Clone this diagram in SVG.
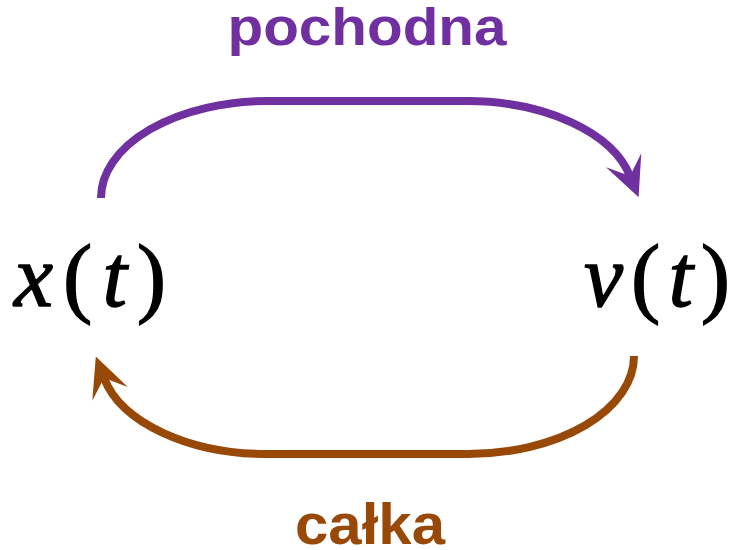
<svg xmlns="http://www.w3.org/2000/svg" width="736" height="550" viewBox="0 0 736 550">
<style>
.lbl{font-family:"Liberation Sans",Arial,sans-serif;font-weight:bold;text-anchor:middle}
.math{font-family:"Liberation Serif","Times New Roman",serif;font-size:88px;fill:#000;stroke:#000;stroke-width:1.3}
.it{font-style:italic}
.conn{fill:none;stroke-width:8}
</style>
<defs>
<marker id="ahP" markerUnits="userSpaceOnUse" viewBox="-40 -21 42 42" refX="-23" refY="0" markerWidth="42" markerHeight="42" orient="auto">
<path d="M0,0 L-40,-19 L-23,0 L-40,19 Z" fill="#7030A0"/>
</marker>
<marker id="ahB" markerUnits="userSpaceOnUse" viewBox="-40 -21 42 42" refX="-23" refY="0" markerWidth="42" markerHeight="42" orient="auto">
<path d="M0,0 L-40,-19 L-23,0 L-40,19 Z" fill="#984807"/>
</marker>
</defs>
<g id="connectors">
<path class="conn" stroke="#7030A0" d="M101,198 A167,97 0 0 1 268,101 L468,101 A168,97 0 0 1 630,176" marker-end="url(#ahP)"/>
<path class="conn" stroke="#984807" d="M634,356 A166,98 0 0 1 468,454 L268,454 A167,97 0 0 1 104,378" marker-end="url(#ahB)"/>
</g>
<g id="label-pochodna"><text class="lbl" x="367" y="45" font-size="51" textLength="279" lengthAdjust="spacingAndGlyphs" fill="#7030A0">pochodna</text></g>
<g id="label-calka"><text class="lbl" x="370" y="544" font-size="58" textLength="150" lengthAdjust="spacingAndGlyphs" fill="#984807">całka</text></g>
<g id="node-x"><text class="math" x="14" y="306"><tspan class="it">x</tspan><tspan dx="10">(</tspan><tspan class="it" dx="10">t</tspan><tspan dx="10">)</tspan></text></g>
<g id="node-v"><text class="math" x="584" y="306"><tspan class="it">v</tspan><tspan dx="8">(</tspan><tspan class="it" dx="8">t</tspan><tspan dx="8">)</tspan></text></g>
</svg>
